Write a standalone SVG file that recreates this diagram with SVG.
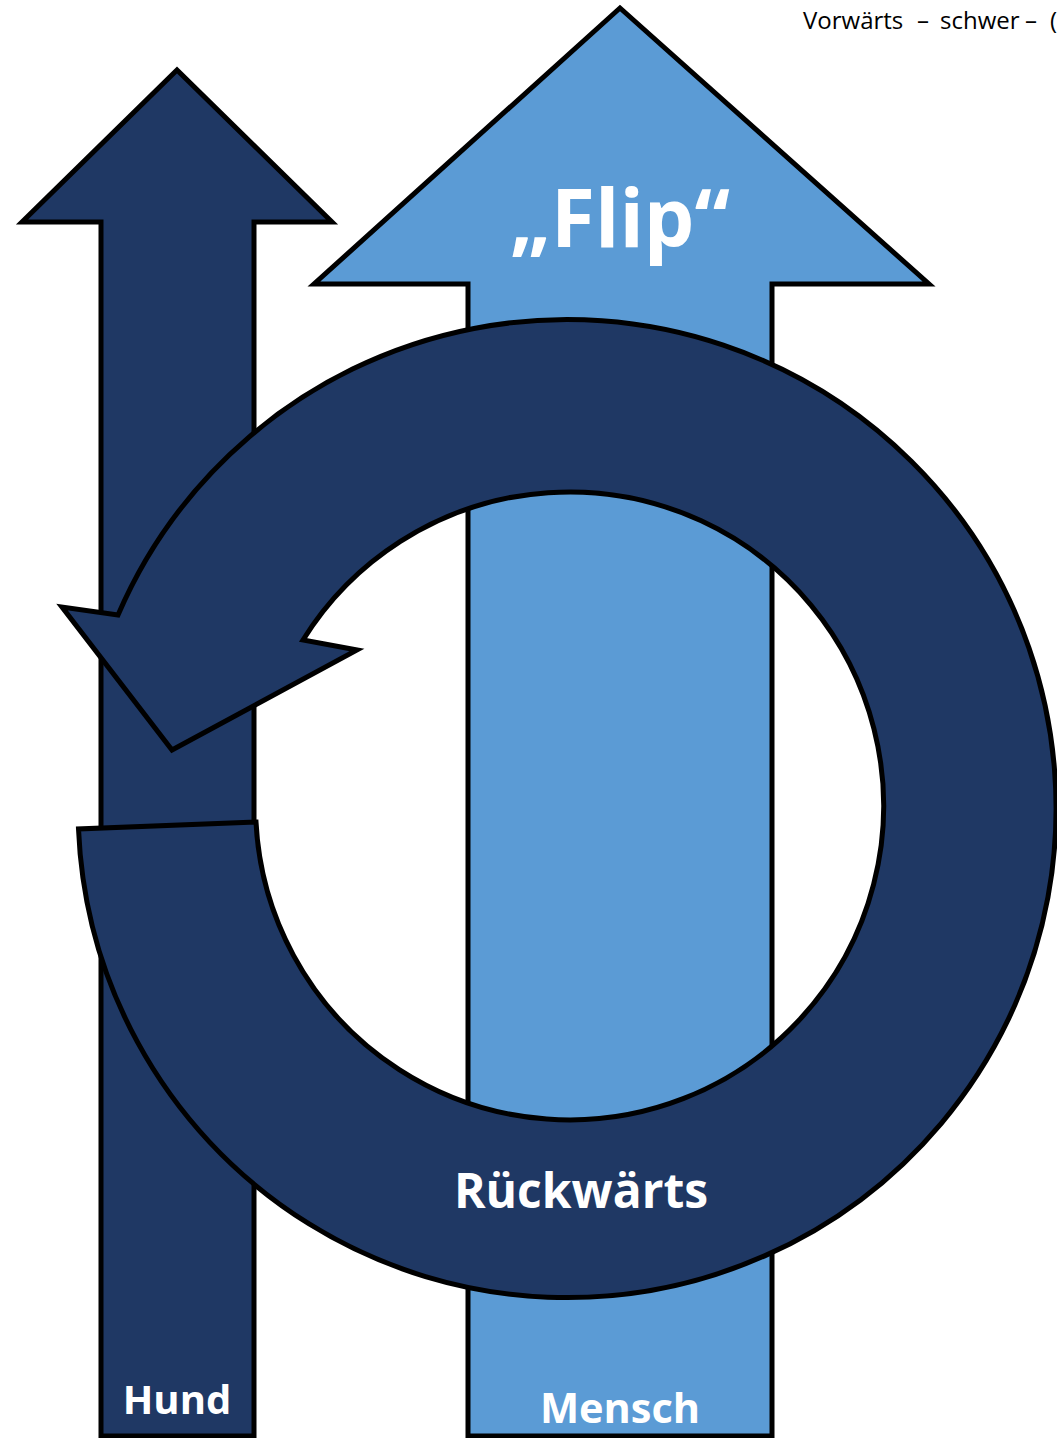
<svg xmlns="http://www.w3.org/2000/svg" width="1057" height="1438" viewBox="0 0 1057 1438">
<style>
.dark{fill:#1F3864;stroke:#000;stroke-width:5;stroke-linejoin:miter}
.light{fill:#5B9BD5;stroke:#000;stroke-width:5;stroke-linejoin:miter}
.lbl{font-family:"Open Sans","Noto Sans",sans-serif;font-weight:bold;fill:#fff;text-anchor:middle}
.hdr{font-family:"Open Sans","Noto Sans",sans-serif;font-size:24px;fill:#000}
</style>
<rect width="1057" height="1438" fill="#fff"/>
<text class="hdr" y="29"><tspan x="803">Vorwärts </tspan><tspan x="917">– </tspan><tspan x="940">schwer </tspan><tspan x="1025">– </tspan><tspan x="1050">(</tspan></text>
<g id="hund">
<polygon class="dark" points="101,1436 101,222 22,222 177,70 332,222 254,222 254,1436"/>
<text class="lbl" x="177" y="1414" font-size="40">Hund</text>
</g>
<g id="mensch">
<polygon class="light" points="468,1436 468,284 314,284 620,8 929,284 772,284 772,1436"/>
<text class="lbl" x="620" y="247" font-size="80">„Flip“</text>
<text class="lbl" x="620" y="1423" font-size="41.5">Mensch</text>
</g>
<g id="connectors">
<g id="rueckwaerts">
<path class="dark" d="M 78.5,829 A 489 489 0 1 0 118,615 L 62,607 L 172,750 L 357,650 L 303,640 A 314 314 0 1 1 256,822 Z"/>
<text class="lbl" x="581" y="1208" font-size="48">Rückwärts</text>
</g>
</g>
</svg>
